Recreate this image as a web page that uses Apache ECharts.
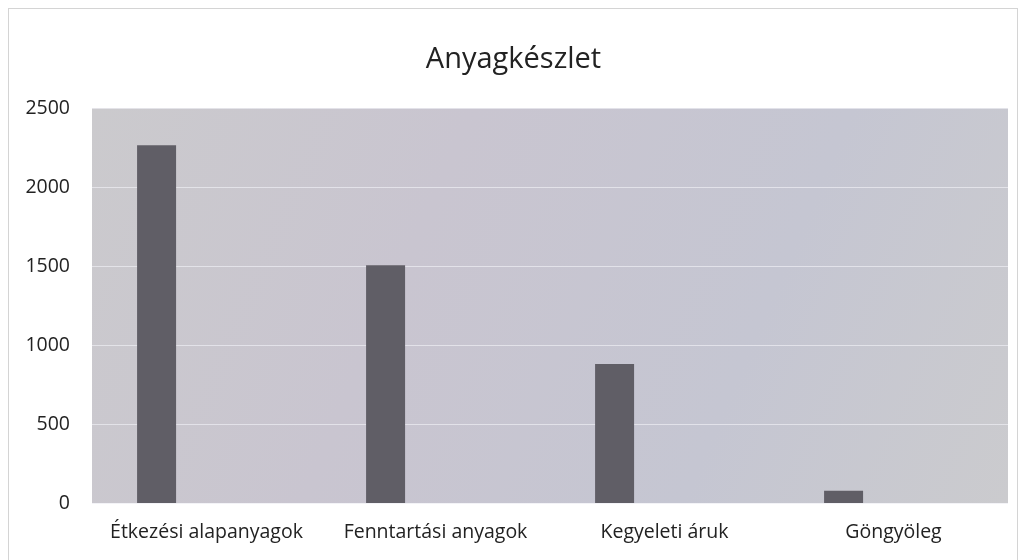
<!DOCTYPE html>
<html>
<head>
<meta charset="utf-8">
<script src="https://cdn.jsdelivr.net/npm/echarts@6/dist/echarts.min.js"></script>
<style>
html,body{margin:0;padding:0;background:#fff;}
#frame{position:absolute;left:8px;top:8px;width:1010px;height:560px;border:1px solid #d4d4d4;border-bottom:none;box-sizing:border-box;}
#chart{width:1027px;height:560px;position:absolute;left:0;top:0;}
</style>
</head>
<body>
<div id="frame"></div>
<div id="chart"></div>
<script>
const title = 'Anyagkészlet';
const categories = ['Étkezési alapanyagok', 'Fenntartási anyagok', 'Kegyeleti áruk', 'Göngyöleg'];
const values = [2265, 1505, 880, 78];
const emptySeries = ['-', '-', '-', '-'];
const yTicks = { min: 0, max: 2500, interval: 500 };

const chart = echarts.init(document.getElementById('chart'), null, { renderer: 'canvas' });
const font = '"Open Sans", "DejaVu Sans", sans-serif';
chart.setOption({
  backgroundColor: 'transparent',
  animation: false,
  title: {
    text: title, left: 'center', top: 40,
    textStyle: { fontFamily: font, fontSize: 29, fontWeight: 'normal', color: '#222' }
  },
  grid: {
    left: 92, right: 19, top: 108, bottom: 57,
    show: true, borderWidth: 0,
    backgroundColor: {
      type: 'linear', x: 0, y: 0, x2: 1, y2: 1,
      colorStops: [
        { offset: 0, color: '#cbcacd' },
        { offset: 0.35, color: '#c9c5d0' },
        { offset: 0.7, color: '#c5c6d2' },
        { offset: 1, color: '#cbcbce' }
      ]
    }
  },
  xAxis: {
    type: 'category', data: categories,
    axisLine: { show: false }, axisTick: { show: false },
    axisLabel: { fontFamily: font, fontSize: 19.5, color: '#222', margin: 19, interval: 0 }
  },
  yAxis: {
    type: 'value', min: yTicks.min, max: yTicks.max, interval: yTicks.interval,
    axisLine: { show: false }, axisTick: { show: false },
    axisLabel: { fontFamily: font, fontSize: 19.5, color: '#222', margin: 22,
      formatter: function (v) { return String(v); } },
    splitLine: { lineStyle: { color: 'rgba(238,238,244,0.7)', width: 1 } }
  },
  series: [
    { type: 'bar', data: values, barWidth: 39, barGap: '28%',
      itemStyle: { color: '#605e66' } },
    { type: 'bar', data: emptySeries, barWidth: 39, barGap: '28%' },
    { type: 'bar', data: emptySeries, barWidth: 39, barGap: '28%' }
  ]
});
</script>
</body>
</html>
